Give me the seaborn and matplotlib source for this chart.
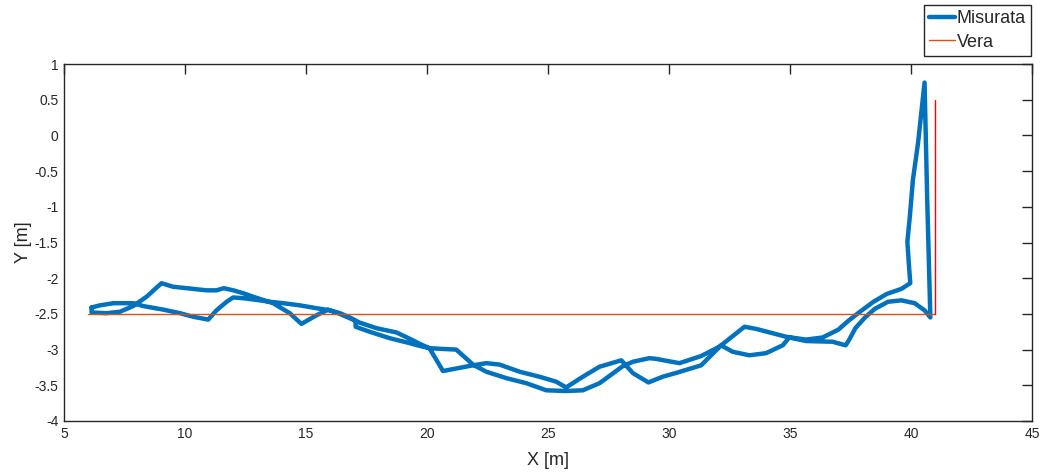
import numpy as np
import pandas as pd
import matplotlib
matplotlib.use("Agg")
import matplotlib.pyplot as plt
import seaborn as sns

# tratti della traiettoria misurata (da sinistra a destra)
p_x = [6.14, 6.49, 7.04, 7.45, 7.86, 8.27, 9.10, 9.79, 10.34, 10.96, 11.30, 11.72,
       11.99, 12.40, 13.09, 13.50, 14.05, 14.74, 15.43, 15.98, 16.40, 16.81, 17.20,
       17.91, 18.74, 19.42, 19.70, 20.10]
p_y = [-2.41, -2.38, -2.35, -2.35, -2.35, -2.39, -2.44, -2.49, -2.54, -2.58, -2.45, -2.33,
       -2.27, -2.28, -2.31, -2.33, -2.35, -2.38, -2.42, -2.45, -2.49, -2.55, -2.62,
       -2.70, -2.76, -2.87, -2.92, -2.98]

q_x = [6.14, 6.76, 7.31, 7.86, 8.41, 9.03, 9.51, 10.07, 10.89, 11.30, 11.60, 12.00,
       12.40, 12.82, 13.64, 14.33, 14.81, 15.43, 15.91, 16.40, 16.94, 17.05, 17.05,
       17.63, 18.46, 19.29, 19.60, 20.10]
q_y = [-2.48, -2.49, -2.47, -2.39, -2.26, -2.07, -2.12, -2.14, -2.17, -2.17, -2.14, -2.17,
       -2.21, -2.26, -2.35, -2.49, -2.64, -2.52, -2.44, -2.50, -2.58, -2.61, -2.68,
       -2.75, -2.84, -2.91, -2.94, -2.98]

f_x = [20.10, 20.60, 21.21, 21.90, 22.45, 23.28, 24.10, 24.93, 25.75, 26.44, 27.13,
       28.10, 28.51, 29.19, 29.47, 30.43, 31.33, 32.08, 33.12, 33.60, 34.84, 35.66,
       36.35, 37.00, 37.40, 37.85, 38.45, 39.00, 39.60, 39.97]
f_y = [-2.98, -2.99, -3.00, -3.21, -3.31, -3.40, -3.47, -3.57, -3.58, -3.57, -3.47,
       -3.23, -3.17, -3.12, -3.13, -3.19, -3.09, -2.96, -2.68, -2.71, -2.82, -2.86,
       -2.83, -2.72, -2.60, -2.48, -2.33, -2.22, -2.15, -2.07]

# picco finale: gamba sinistra in salita, poi discesa
spike_x = [39.92, 39.85, 39.95, 40.08, 40.29, 40.56, 40.67, 40.80]
spike_y = [-1.84, -1.49, -1.14, -0.62, -0.11, 0.74, -0.90, -2.55]

d_x = [20.10, 20.66, 21.90, 22.45, 23.00, 23.83, 24.65, 25.34, 25.75, 26.44, 27.13,
       28.03, 28.51, 29.15, 29.74, 30.36, 31.33, 32.15, 32.63, 33.32, 34.01, 34.70,
       34.97, 35.66, 36.76, 37.30, 37.45, 37.70, 38.10, 38.50, 39.05, 39.60, 40.15,
       40.56, 40.80]
d_y = [-2.98, -3.30, -3.22, -3.19, -3.21, -3.31, -3.38, -3.45, -3.53, -3.38, -3.24,
       -3.15, -3.33, -3.46, -3.38, -3.32, -3.22, -2.94, -3.03, -3.08, -3.05, -2.94,
       -2.83, -2.88, -2.89, -2.94, -2.86, -2.70, -2.55, -2.43, -2.33, -2.31, -2.35,
       -2.45, -2.55]

# traiettoria vera
vera_x = [6, 41]
vera_y = [-2.5, -2.5]
vera_v_x = [41, 41]
vera_v_y = [-2.5, 0.5]

# percorso completo: P -> F -> picco -> D (al contrario) -> Q (al contrario)
mis_x = p_x + f_x[1:] + spike_x + d_x[::-1][1:] + q_x[::-1][1:] + [p_x[0]]
mis_y = p_y + f_y[1:] + spike_y + d_y[::-1][1:] + q_y[::-1][1:] + [p_y[0]]
d_mis = pd.DataFrame({'x': mis_x, 'y': mis_y})
d_vera = pd.DataFrame({'x': vera_x, 'y': vera_y})

sns.set_theme(style='white')
plt.rcParams['font.family'] = ['Liberation Sans', 'DejaVu Sans']
plt.rcParams['axes.unicode_minus'] = False

fig = plt.figure(figsize=(10.46, 4.74), dpi=100)
ax = fig.add_axes([64/1046, 1 - 421/474, (1032 - 64)/1046, (421 - 64)/474])

sns.lineplot(x='x', y='y', data=d_mis, sort=False, estimator=None, ax=ax,
             color='#0072BD', linewidth=3.2, label='Misurata',
             solid_joinstyle='round', solid_capstyle='round')
sns.lineplot(x='x', y='y', data=d_vera, sort=False, estimator=None, ax=ax,
             color='#D95319', linewidth=1, label='Vera')
ax.plot(vera_v_x, vera_v_y, color='#FF0000', linewidth=1)

ax.set_xlim(5, 45)
ax.set_ylim(-4, 1)
ax.set_xticks(np.arange(5, 46, 5))
ax.set_yticks(np.arange(-4, 1.01, 0.5))
ax.set_yticklabels(['%g' % v for v in np.arange(-4, 1.01, 0.5)])
ax.tick_params(direction='in', length=7, width=1, top=True, right=True,
               labelsize=10, colors='#262626', pad=4)
for s in ax.spines.values():
    s.set_color('#262626')
    s.set_linewidth(1)
ax.set_xlabel('X [m]', fontsize=13, color='#262626', labelpad=8)
ax.set_ylabel('Y [m]', fontsize=13, color='#262626', labelpad=2)

leg = ax.legend(loc='upper right', bbox_to_anchor=(1031/1046, 1 - 5/474),
                bbox_transform=fig.transFigure, fontsize=13, frameon=True,
                fancybox=False, edgecolor='#262626', framealpha=1,
                borderpad=0.3, labelspacing=0.35, handlelength=1.4,
                handletextpad=0.1, borderaxespad=0)
leg.get_frame().set_linewidth(1)

fig.savefig('out.png', dpi=100)
